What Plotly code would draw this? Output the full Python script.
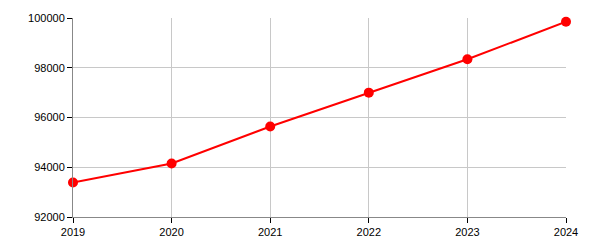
import plotly.graph_objects as go

years = [2019, 2020, 2021, 2022, 2023, 2024]
values = [93390, 94150, 95640, 97000, 98340, 99850]
y_ticks = [92000, 94000, 96000, 98000, 100000]

fig = go.Figure()
fig.add_trace(go.Scatter(
    x=years, y=values, mode="lines+markers",
    line=dict(color="#ff0000", width=2),
    marker=dict(color="#ff0000", size=10),
    cliponaxis=False,
))

fig.update_layout(
    width=600, height=250,
    margin=dict(l=73, r=34, t=15, b=33),
    paper_bgcolor="white", plot_bgcolor="white",
    showlegend=False,
    font=dict(family="Liberation Sans, Arial, sans-serif", size=11, color="black"),
)
fig.update_xaxes(
    range=[2019, 2024], tickvals=years, ticktext=[str(y) for y in years],
    showgrid=True, gridcolor="#c8c8c8", gridwidth=1,
    showline=True, linecolor="#888888", linewidth=1,
    ticks="outside", ticklen=5, tickcolor="black",
    zeroline=False,
)
fig.update_yaxes(
    range=[92000, 100000], tickvals=y_ticks, ticktext=[str(v) for v in y_ticks],
    showgrid=True, gridcolor="#c8c8c8", gridwidth=1,
    showline=True, linecolor="#888888", linewidth=1,
    ticks="outside", ticklen=5, tickcolor="black",
    zeroline=False,
)

fig.write_html("out.html")
